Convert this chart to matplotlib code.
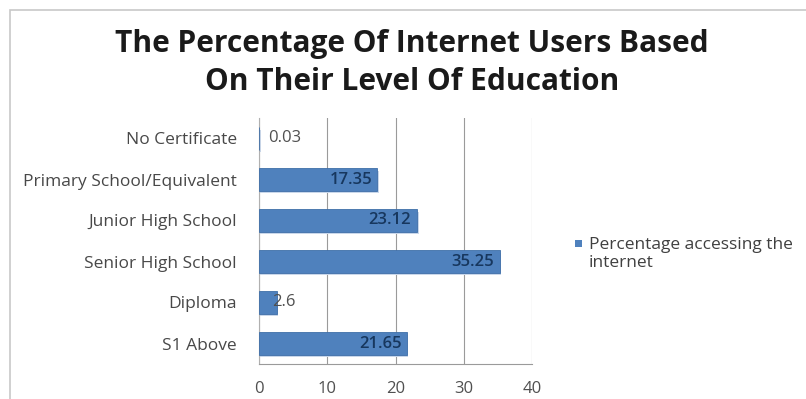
import matplotlib
matplotlib.use("Agg")
import matplotlib.pyplot as plt
from matplotlib.patches import Rectangle

categories = ["No Certificate", "Primary School/Equivalent", "Junior High School",
              "Senior High School", "Diploma", "S1 Above"]
values = [0.03, 17.35, 23.12, 35.25, 2.6, 21.65]
series_name = "Percentage accessing the\ninternet"
title = "The Percentage Of Internet Users Based\nOn Their Level Of Education"
xticks = [0, 10, 20, 30, 40]

plt.rcParams['font.family'] = ['Open Sans', 'DejaVu Sans']

W, H = 806, 399
fig = plt.figure(figsize=(W / 100, H / 100), dpi=100)
fig.patch.set_facecolor('white')

# outer chart frame
fig.add_artist(Rectangle((10 / W, -0.01), 1.0, 1 - 10 / H + 0.01, transform=fig.transFigure,
                         fill=False, edgecolor='#c8c8c8', linewidth=1.2))

ax = fig.add_axes([259 / W, 1 - 364 / H, (532 - 259) / W, (364 - 118) / H])
bar_color = '#4F81BD'
ypos = list(range(len(categories)))
# subtle shadow under bars
ax.barh([y + 0.06 for y in ypos], [v + 0.25 for v in values], height=0.55,
        left=0.0, color='#c9d7ea', linewidth=0, zorder=2)
ax.barh(ypos, values, height=0.55, color=bar_color, edgecolor='#3f6fa8', linewidth=0.6, zorder=3)
ax.set_ylim(len(categories) - 0.5, -0.5)
ax.set_xlim(0, 40)
ax.set_xticks(xticks)
ax.set_xticklabels([str(t) for t in xticks], fontsize=12, color='#505050')
ax.set_yticks(ypos)
ax.set_yticklabels(categories, fontsize=12.5, color='#484848')
ax.tick_params(axis='x', length=0, pad=12)
ax.tick_params(axis='y', length=0, pad=16)
ax.grid(axis='x', color='#9a9a9a', linewidth=0.8, zorder=0)
for s in ['top', 'right']:
    ax.spines[s].set_visible(False)
ax.spines['left'].set_color('#b0b0b0')
ax.spines['bottom'].set_color('#9a9a9a')

for y, v in zip(ypos, values):
    if v < 5:
        x = v - 0.7 if v > 1 else 1.4
        ax.text(x, y, f"{v:g}", va='center', ha='left', fontsize=12, color='#505050', zorder=4)
    else:
        ax.text(v - 0.8, y, f"{v:g}", va='center', ha='right', fontsize=12, color='#17375e',
                fontweight='semibold', zorder=4)

fig.text(412 / W, 1 - 63 / H, title, ha='center', va='center', fontsize=21.5,
         fontweight='bold', color='#1a1a1a', linespacing=1.32)

# legend
fig.add_artist(Rectangle((575 / W, 1 - 247 / H), 7 / W, 7 / H, transform=fig.transFigure,
                         facecolor=bar_color, edgecolor='none'))
fig.text(589 / W, 1 - 254 / H, series_name, ha='left', va='center', fontsize=12.5,
         color='#404040', linespacing=1.2)

fig.savefig("out.png", dpi=100)
